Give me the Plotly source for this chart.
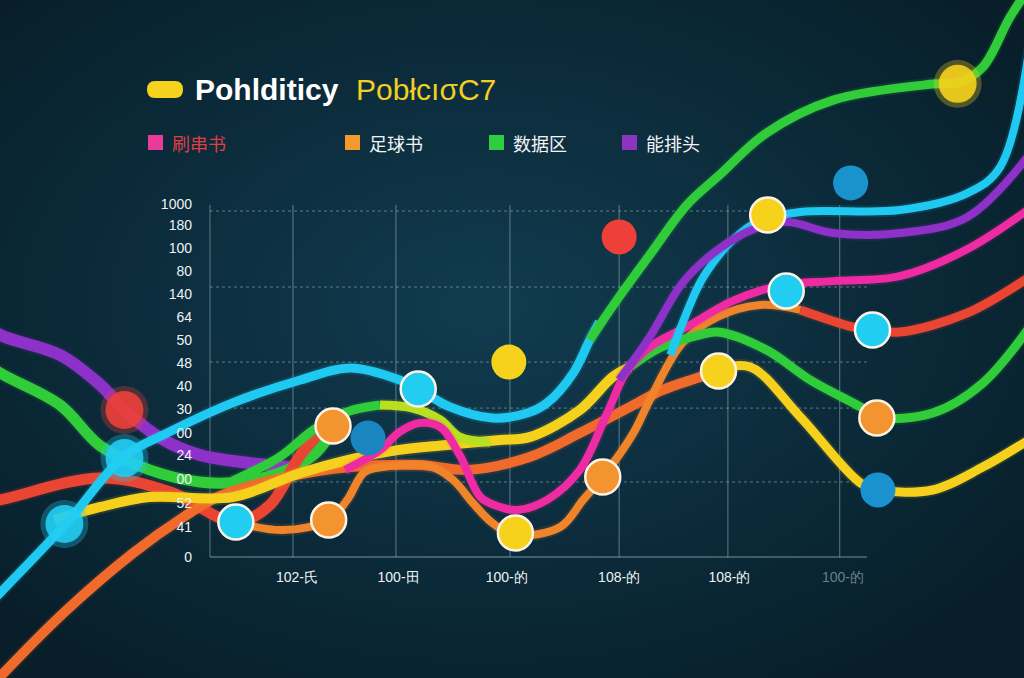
import base64
import struct
import zlib

import numpy as np
import plotly.graph_objects as go

# ---------------- data ----------------
x_tick_vals = [1.0, 1.93, 2.92, 3.95, 4.96, 6.0]
x_tick_text = ["102-氏", "100-田", "100-的", "108-的", "108-的",
               "<span style='color:rgba(230,240,245,0.45)'>100-的</span>"]
y_tick_vals = [14.96, 14.07, 13.09, 12.12, 11.14, 10.17, 9.19, 8.22, 7.25,
               6.27, 5.25, 4.32, 3.31, 2.29, 1.27, 0]
y_tick_text = ["1000", "180", "100", "80", "140", "64", "50", "48", "40",
               "30", "00", "24", "00", "52", "41", "0"]

legend_names = ["刷串书", "足球书", "数据区", "能排头"]

# series (x in category units, y in tick units)
purple_a_x = [-1.9, -1.72, -1.17, -0.80, -0.58, -0.25, 0.11, 0.57, 0.94]
purple_a_y = [10.0, 9.41, 8.56, 7.29, 6.23, 5.04, 4.32, 3.98, 3.81]

green_a_x = [-1.9, -1.72, -1.17, -0.80, -0.35, 0.11, 0.48, 0.84, 1.15, 1.30]
green_a_y = [8.4, 7.80, 6.44, 4.70, 3.69, 3.18, 3.18, 3.56, 4.32, 5.17]

red_a_x = [-2.0, -1.72, -0.80, -0.16, 0.44, 0.75, 1.03, 1.21]
red_a_y = [2.2, 2.42, 3.35, 2.75, 1.48, 2.20, 4.32, 5.30]

cyan_a_x = [-1.9, -1.72, -1.11, -0.59, -0.19, 0.41, 1.03, 1.49, 1.94, 2.11,
            2.40, 2.79, 3.11, 3.29, 3.53, 3.68, 3.77]
cyan_a_y = [-2.4, -1.53, 1.44, 4.24, 5.25, 6.53, 7.50, 8.01, 7.50, 7.12,
            6.36, 5.89, 6.10, 6.53, 7.80, 9.19, 9.96]

green_b_x = [3.68, 3.93, 4.23, 4.57, 4.87, 5.30, 5.91, 6.82, 7.05, 7.28, 7.53, 7.75]
green_b_y = [9.19, 10.89, 12.80, 14.92, 16.19, 17.97, 19.36, 20.04, 20.10, 20.76, 22.88, 24.4]

lime_x = [0.41, 0.84, 1.15, 1.46, 1.76]
lime_y = [3.22, 4.24, 5.38, 6.15, 6.44]
lime_b_x = [1.76, 2.06, 2.31, 2.49, 2.77]
lime_b_y = [6.44, 6.31, 5.81, 5.08, 4.87]

yellow_a_x = [-1.22, -0.80, -0.35, 0.41, 1.03, 1.46, 1.92, 2.37, 2.86, 3.13, 3.59, 3.89, 4.05]
yellow_a_y = [1.57, 2.12, 2.54, 2.54, 3.56, 4.11, 4.53, 4.75, 4.96, 5.08, 6.23, 7.63, 8.05]

green_c_x = [4.05, 4.32, 4.69, 4.85, 5.30, 5.70, 6.16, 6.31, 6.82, 7.28, 7.75]
green_c_y = [8.05, 8.86, 9.41, 9.53, 8.77, 7.50, 6.36, 5.93, 6.10, 7.37, 10.0]

orange_a_x = [-1.9, -1.72, -1.11, -0.50, -0.04, 0.27, 0.87, 1.49, 2.12, 2.56,
              3.13, 3.59, 4.05, 4.35, 4.69, 4.85]
orange_a_y = [-6.0, -5.08, -2.25, 0.17, 1.69, 2.54, 3.35, 3.81, 3.90, 3.69,
              4.24, 5.25, 6.36, 7.08, 7.63, 7.92]

yellow_b_x = [4.85, 5.15, 5.61, 6.16, 6.34, 6.82, 7.28, 7.75]
yellow_b_y = [7.92, 8.05, 5.93, 3.14, 2.84, 2.84, 3.81, 5.1]

orange_b_x = [0.44, 0.87, 1.29, 1.46, 1.62, 1.85, 2.22, 2.43, 2.61, 2.79, 2.996,
              3.41, 3.62, 3.80, 4.08, 4.23, 4.53, 4.85, 5.24, 5.61]
orange_b_y = [1.48, 1.14, 1.57, 2.42, 3.60, 3.85, 3.85, 3.26, 2.29, 1.44, 0.93,
              1.27, 2.42, 3.39, 5.25, 6.65, 9.07, 10.17, 10.68, 10.47]

red_b_x = [5.61, 6.09, 6.27, 6.52, 7.14, 7.75]
red_b_y = [10.47, 9.75, 9.62, 9.53, 10.34, 12.0]

magenta_x = [1.44, 1.76, 1.94, 2.12, 2.31, 2.49, 2.68, 2.86, 3.01, 3.29, 3.59,
             3.84, 4.02, 4.23, 4.60, 4.99, 5.45, 5.91, 6.52, 7.14, 7.75]
magenta_y = [3.69, 4.53, 5.30, 5.68, 5.51, 4.32, 2.54, 2.12, 1.99, 2.42, 3.69,
             6.10, 7.88, 8.90, 9.83, 10.85, 11.53, 11.69, 11.90, 13.05, 14.9]

purple_b_x = [3.95, 4.23, 4.53, 4.85, 5.21, 5.49, 5.91, 6.52, 7.14, 7.75]
purple_b_y = [7.50, 9.32, 11.61, 13.01, 13.94, 14.19, 13.73, 13.73, 14.41, 17.3]

cyan_b_x = [4.42, 4.48, 4.69, 4.85, 4.99, 5.21, 5.61, 6.52, 7.14, 7.44, 7.75]
cyan_b_y = [8.56, 9.32, 11.61, 12.71, 13.43, 14.19, 14.62, 14.70, 15.42, 16.53, 23.0]

# highlighted points
dot_x = [5.31, 5.48, 6.27, 2.11, 4.86, 1.33, 6.31, 3.80, 0.44, 1.29, 3.00]
dot_y = [14.49, 11.27, 9.62, 7.12, 7.88, 5.55, 5.89, 3.39, 1.48, 1.57, 1.02]
dot_color = ["#f6d21c", "#22cdf2", "#22cdf2", "#22cdf2", "#f6d21c", "#f39431",
             "#f39431", "#f39431", "#22cdf2", "#f39431", "#f6d21c"]

plain_dot_x = [6.07, 3.95, 2.94, 1.65, 6.32]
plain_dot_y = [15.85, 13.56, 8.26, 5.04, 2.84]
plain_dot_color = ["#1a92cc", "#ec4038", "#f6d21c", "#1a86bf", "#1a92d0"]

soft_dot_x = [7.05, -0.58, -0.58, -1.13]
soft_dot_y = [20.05, 6.23, 4.19, 1.40]
soft_dot_color = ["#f6d21c", "#ec4038", "#22cdf2", "#22cdf2"]

grid_x = [0.203, 0.963, 1.906, 2.95, 3.95, 4.946, 5.97]
grid_y = [14.66, 11.44, 8.26, 6.31, 3.18]

# ---------------- colours / styles ----------------
CYAN = "#1fc9f1"
GREEN = "#31cc3a"
LIME = "#b8e021"
YELLOW = "#f5d01d"
ORANGE = "#f0842b"
ORANGE_RED = "#f06a2c"
RED = "#ea4432"
MAGENTA = "#ee2ba2"
PURPLE = "#8e31c9"

X_RANGE = [-1.7198, 7.6575]
Y_RANGE = [-5.127, 23.602]


def gradient_png(w=256, h=170):
    yy, xx = np.mgrid[0:h, 0:w]
    cx, cy = 0.47 * w, 0.45 * h
    d = np.sqrt(((xx - cx) / (0.68 * w)) ** 2 + ((yy - cy) / (0.68 * h)) ** 2)
    d = np.clip(d, 0, 1)
    inner = np.array([17, 60, 80], float)
    outer = np.array([8, 30, 41], float)
    img = inner[None, None, :] * (1 - d[..., None]) + outer[None, None, :] * d[..., None]
    img = img.astype(np.uint8)
    raw = b"".join(b"\x00" + img[i].tobytes() for i in range(h))

    def chunk(t, data):
        c = struct.pack(">I", len(data)) + t + data
        return c + struct.pack(">I", zlib.crc32(t + data) & 0xFFFFFFFF)

    png = (b"\x89PNG\r\n\x1a\n"
           + chunk(b"IHDR", struct.pack(">IIBBBBB", w, h, 8, 2, 0, 0, 0))
           + chunk(b"IDAT", zlib.compress(raw, 9))
           + chunk(b"IEND", b""))
    return "data:image/png;base64," + base64.b64encode(png).decode()


fig = go.Figure()

series = [
    (purple_a_x, purple_a_y, PURPLE, 12),
    (green_a_x, green_a_y, GREEN, 11),
    (red_a_x, red_a_y, RED, 11),
    (orange_a_x, orange_a_y, ORANGE_RED, 10),
    (yellow_a_x, yellow_a_y, YELLOW, 10),
    (cyan_a_x, cyan_a_y, CYAN, 9),
    (lime_x, lime_y, GREEN, 9),
    (lime_b_x, lime_b_y, LIME, 9),
    (orange_b_x, orange_b_y, ORANGE, 8),
    (red_b_x, red_b_y, RED, 9),
    (green_c_x, green_c_y, GREEN, 9),
    (yellow_b_x, yellow_b_y, YELLOW, 9),
    (magenta_x, magenta_y, MAGENTA, 8),
    (cyan_b_x, cyan_b_y, CYAN, 8),
    (purple_b_x, purple_b_y, PURPLE, 8),
    (green_b_x, green_b_y, GREEN, 9),
]

for sx, sy, col, w in series:
    fig.add_trace(go.Scatter(x=sx, y=sy, mode="lines",
                             line=dict(color=col, width=w + 4, shape="spline", smoothing=1.0),
                             opacity=0.12, hoverinfo="skip", showlegend=False))
    fig.add_trace(go.Scatter(x=sx, y=sy, mode="lines",
                             line=dict(color=col, width=w, shape="spline", smoothing=1.0),
                             hoverinfo="skip", showlegend=False))

# soft (out of focus) dots
fig.add_trace(go.Scatter(x=soft_dot_x, y=soft_dot_y, mode="markers",
                         marker=dict(color=soft_dot_color, size=48, opacity=0.3, line=dict(width=0)),
                         showlegend=False, hoverinfo="skip"))
fig.add_trace(go.Scatter(x=soft_dot_x, y=soft_dot_y, mode="markers",
                         marker=dict(color=soft_dot_color, size=38, opacity=0.9, line=dict(width=0)),
                         showlegend=False, hoverinfo="skip"))
# plain dots
fig.add_trace(go.Scatter(x=plain_dot_x, y=plain_dot_y, mode="markers",
                         marker=dict(color=plain_dot_color, size=35, line=dict(width=0)),
                         showlegend=False, hoverinfo="skip"))
# outlined dots
fig.add_trace(go.Scatter(x=dot_x, y=dot_y, mode="markers",
                         marker=dict(color=dot_color, size=35, line=dict(color="#fbf3e6", width=2.5)),
                         showlegend=False, hoverinfo="skip"))

# grid
shapes = []
grid_line = dict(color="rgba(190,215,225,0.45)", width=1)
for gx in grid_x:
    shapes.append(dict(type="line", xref="x", yref="y", x0=gx, x1=gx, y0=0, y1=14.92,
                       line=grid_line, layer="below"))
for gy in grid_y:
    shapes.append(dict(type="line", xref="x", yref="y", x0=grid_x[0], x1=6.22, y0=gy, y1=gy,
                       line=dict(color="rgba(190,215,225,0.45)", width=1, dash="dot"), layer="below"))
shapes.append(dict(type="line", xref="x", yref="y", x0=grid_x[0], x1=6.22, y0=0, y1=0,
                   line=dict(color="rgba(190,215,225,0.6)", width=1.2), layer="below"))

W, H = 1024, 678


def px(x):
    return x / W


def py(y):
    return 1 - y / H


# title pill
shapes.append(dict(type="path", xref="paper", yref="paper",
                   path=f"M {px(155)},{py(81)} L {px(175)},{py(81)} "
                        f"Q {px(183)},{py(81)} {px(183)},{py(89.5)} "
                        f"Q {px(183)},{py(98)} {px(175)},{py(98)} "
                        f"L {px(155)},{py(98)} Q {px(147)},{py(98)} {px(147)},{py(89.5)} "
                        f"Q {px(147)},{py(81)} {px(155)},{py(81)} Z",
                   fillcolor="#f5d21c", line=dict(width=0)))

legend_sq = ["#ea3a9c", "#f29a2c", "#2fcc3f", "#8a34c2"]
legend_txt_col = ["#dc3f48", "#f2f4f6", "#f2f4f6", "#f2f4f6"]
legend_x = [148, 345, 489, 622]
annotations = []
for i, name in enumerate(legend_names):
    x0 = legend_x[i]
    shapes.append(dict(type="rect", xref="paper", yref="paper",
                       x0=px(x0), x1=px(x0 + 15), y0=py(150), y1=py(135),
                       fillcolor=legend_sq[i], line=dict(width=0)))
    annotations.append(dict(xref="paper", yref="paper", x=px(x0 + 22), y=py(142.5),
                            xanchor="left", yanchor="middle", showarrow=False, text=name,
                            font=dict(size=18, color=legend_txt_col[i],
                                      family="Noto Sans CJK SC")))

annotations.append(dict(xref="paper", yref="paper", x=px(193), y=py(90), xanchor="left",
                        yanchor="middle", showarrow=False, text="<b>Pohlditicy</b>",
                        font=dict(size=30, color="#ffffff", family="Liberation Sans")))
annotations.append(dict(xref="paper", yref="paper", x=px(354), y=py(90), xanchor="left",
                        yanchor="middle", showarrow=False, text="PobłcıσC7",
                        font=dict(size=30, color="#f2cf22", family="Liberation Sans")))

fig.update_layout(
    width=W, height=H,
    margin=dict(l=0, r=0, t=0, b=0, autoexpand=False),
    paper_bgcolor="#0c2f40", plot_bgcolor="rgba(0,0,0,0)",
    showlegend=False,
    shapes=shapes, annotations=annotations,
    images=[dict(source=gradient_png(), xref="paper", yref="paper", x=0, y=1,
                 sizex=1, sizey=1, sizing="stretch", layer="below", xanchor="left", yanchor="top")],
    xaxis=dict(range=X_RANGE, domain=[0, 1], anchor="free", position=(H - 557) / H,
               showgrid=False, zeroline=False, showline=False, ticks="",
               tickvals=x_tick_vals, ticktext=x_tick_text, ticklabelstandoff=10,
               tickfont=dict(size=14, color="#eef3f6", family="Liberation Sans"),
               fixedrange=True),
    yaxis=dict(range=Y_RANGE, domain=[0, 1], anchor="free", position=210 / W,
               showgrid=False, zeroline=False, showline=False, ticks="",
               tickvals=y_tick_vals, ticktext=y_tick_text, ticklabelstandoff=18,
               tickfont=dict(size=14, color="#eef3f6", family="Liberation Sans"),
               fixedrange=True),
)

fig.write_html("out.html")
